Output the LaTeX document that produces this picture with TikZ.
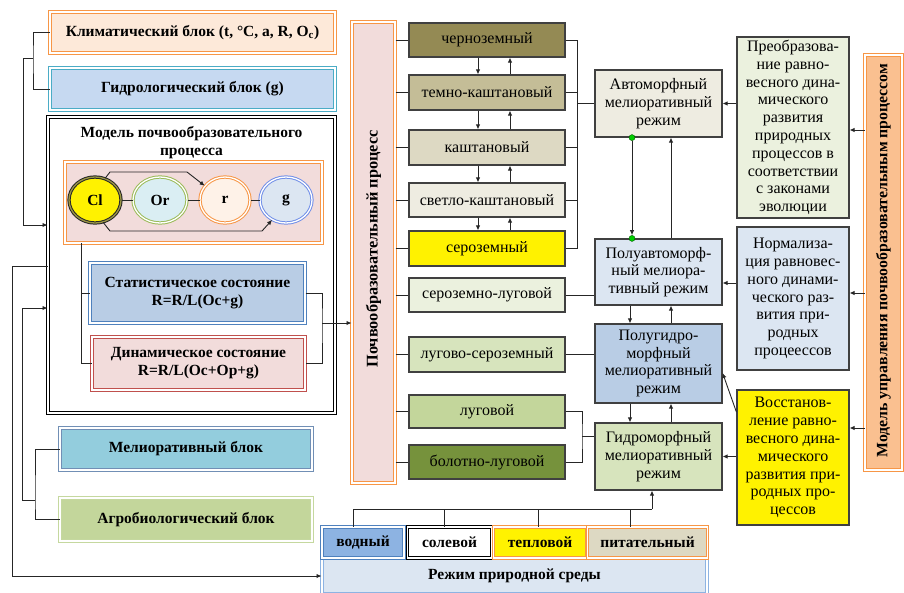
\documentclass[tikz,border=0pt]{standalone}
\usepackage{fontspec}
\setmainfont{Liberation Serif}
\usetikzlibrary{arrows.meta,shapes.geometric}

\definecolor{cOrange}{HTML}{F79646}
\definecolor{cPeach}{HTML}{FDE9D9}
\definecolor{cPink}{HTML}{F2DCDB}
\definecolor{cSky}{HTML}{C6D9F1}
\definecolor{cCyanLine}{HTML}{4BACC6}
\definecolor{cBlueLine}{HTML}{4F81BD}
\definecolor{cRedLine}{HTML}{C0504D}
\definecolor{cGreenLine}{HTML}{9BBB59}
\definecolor{cBlueMid}{HTML}{B9CDE5}
\definecolor{cBlueLight}{HTML}{DCE6F2}
\definecolor{cAqua}{HTML}{93CDDD}
\definecolor{cOlive}{HTML}{C3D69B}
\definecolor{cOliveL}{HTML}{D7E4BD}
\definecolor{cOliveXL}{HTML}{EBF1DE}
\definecolor{cOliveD}{HTML}{76923C}
\definecolor{cTanD}{HTML}{948A54}
\definecolor{cTanM}{HTML}{C4BD97}
\definecolor{cTanL}{HTML}{DDD9C3}
\definecolor{cTanXL}{HTML}{EEECE1}
\definecolor{cWater}{HTML}{8DB3E2}
\definecolor{cCyanL}{HTML}{DAEEF3}
\definecolor{cApricot}{HTML}{FAC090}

\begin{document}
\begin{tikzpicture}[x=1pt,y=-1pt,
  txt/.style={font=\fontsize{16}{17.8}\selectfont},
  btxt/.style={font=\fontsize{15.5}{17.8}\selectfont\bfseries},
  plain/.style={draw=black!75, line width=1.2pt, inner sep=0pt, align=center, txt},
  dbl/.style={draw=#1, double=white, double distance=1.5pt, line width=1pt,
              inner sep=0pt, align=center, btxt},
  oval/.style={ellipse, inner sep=0pt, minimum width=52, minimum height=46,
               line width=1pt, double=white, double distance=1.3pt, btxt},
  wire/.style={draw=black!85, line width=0.9pt},
  arr/.style={wire, -{Latex[length=5pt,width=4.5pt]}},
  gdot/.style={circle, fill=green!80!black, draw=green!35!black, line width=0.4pt,
               inner sep=0pt, minimum size=6pt},
]
\useasboundingbox (0,0) rectangle (904,592);

% ---------- left column: blocks and soil formation model ----------
\node[dbl=cOrange, fill=cPeach, minimum width=285, minimum height=41]
  (clim) at (192.5,32.5) {Климатический блок (t, °C, a, R, O\textsubscript{c})};
\node[dbl=cCyanLine, fill=cSky, minimum width=285, minimum height=42]
  (hydro) at (192.5,89) {Гидрологический блок (g)};

\node[dbl=black, fill=white, minimum width=287, minimum height=296]
  (model) at (191.5,265) {};
\node[btxt, align=center] (mtitle) at (191.5,142.5) {Модель почвообразовательного\\процесса};

\node[dbl=cOrange, fill=cPink, minimum width=257, minimum height=81]
  (group) at (193.5,202.5) {};
\node[oval, draw=black!85, double=yellow!55!black, fill=yellow] (Cl) at (95,200) {Cl};
\node[oval, draw=cGreenLine, fill=cCyanL, minimum width=54] (Or) at (160,200) {Or};
\node[oval, draw=cOrange, fill=cPeach!60, minimum width=50] (r) at (225,200) {r};
\node[oval, draw=cWater!80!blue, fill=cBlueLight] (g) at (286,200) {g};
\draw[wire] (Cl) -- (Or);
\draw[wire] (Or) -- (r);
\draw[wire] (r) -- (g);
\coordinate (ct1) at (110,172);
\coordinate (ct2) at (187,172);
\coordinate (cb1) at (110,231);
\coordinate (cb2) at (262,231);
\draw[arr] (Cl.65) -- (ct1) -- (ct2) -- (r.145);
\draw[arr] (Cl.-70) -- (cb1) -- (cb2) -- (g.-125);

\node[dbl=cBlueLine, fill=cBlueMid, minimum width=215, minimum height=60]
  (stat) at (197.5,293) {Статистическое состояние\\R=R/L(Oc+g)};
\node[dbl=cRedLine, fill=cPink, minimum width=213, minimum height=53]
  (dyn) at (198.5,363.5) {Динамическое состояние\\R=R/L(Oc+Op+g)};

\node[dbl=cWater!80!black, fill=cAqua, minimum width=252, minimum height=42]
  (melior) at (186,449) {Мелиоративный блок};
\node[dbl=cOliveL!70!cGreenLine, fill=cOlive, minimum width=252, minimum height=43]
  (agro) at (186,519.5) {Агробиологический блок};

% states of the model feed the soil formation process
\coordinate (gB) at (81,243);
\draw[wire] (gB) |- (dyn.west);
\draw[wire] (stat.west) -- (stat.west -| gB);
\coordinate (jS) at (322,323);
\draw[wire] (stat.east) -| (jS) |- (dyn.east);

% ---------- soil formation process and soil types ----------
\node[dbl=cOrange, fill=cPink, minimum width=43, minimum height=461]
  (proc) at (373.5,252.5) {};
\node[btxt, font=\fontsize{16.3}{18}\selectfont\bfseries, rotate=90]
  at (373.5,249) {Почвообразовательный процесс};
\draw[arr] (jS) -- (jS -| proc.west);

\node[plain, fill=cTanD,   minimum width=156, minimum height=34] (s1) at (487,40)    {черноземный};
\node[plain, fill=cTanM,   minimum width=156, minimum height=35] (s2) at (487,92.5)  {темно-каштановый};
\node[plain, fill=cTanL,   minimum width=156, minimum height=35] (s3) at (487,147.5) {каштановый};
\node[plain, fill=cTanXL,  minimum width=156, minimum height=34] (s4) at (487,200)   {светло-каштановый};
\node[plain, fill=yellow,  minimum width=156, minimum height=35] (s5) at (487,248.5) {сероземный};
\node[plain, fill=cOliveXL,minimum width=156, minimum height=34] (s6) at (487,295)   {сероземно-луговой};
\node[plain, fill=cOliveL, minimum width=156, minimum height=35] (s7) at (487,354.5) {лугово-сероземный};
\node[plain, fill=cOlive,  minimum width=156, minimum height=33] (s8) at (487,411.5) {луговой};
\node[plain, fill=cOliveD, minimum width=156, minimum height=34] (s9) at (487,462)   {болотно-луговой};

\foreach \s in {s1,s2,s3,s4,s5,s6,s7,s8,s9}
  \draw[wire] (proc.east |- \s.west) -- (\s.west);

\coordinate (xd) at (478,0);
\coordinate (xu) at (510,0);
\foreach \a/\b in {s1/s2,s2/s3,s3/s4,s4/s5}{
  \draw[arr] (\a.south -| xd) -- (\b.north -| xd);
  \draw[arr] (\b.north -| xu) -- (\a.south -| xu);
}

% ---------- reclamation regimes ----------
\node[plain, fill=cTanXL, minimum width=127, minimum height=67]
  (auto) at (658.5,103.5) {Автоморфный\\мелиоративный\\режим};
\node[plain, fill=cBlueLight, minimum width=127, minimum height=66]
  (semiauto) at (658.5,272) {Полуавтоморф-\\ный мелиора-\\тивный режим};
\node[plain, fill=cBlueMid, minimum width=127, minimum height=79]
  (semihydro) at (658.5,363.5) {Полугидро-\\морфный\\мелиоративный\\режим};
\node[plain, fill=cOliveL, minimum width=127, minimum height=67]
  (hydroR) at (658.5,456.5) {Гидроморфный\\мелиоративный\\режим};

\coordinate (bx) at (577,0);
\draw[wire] (s1.east) -| (bx |- s5.east) -- (s5.east);
\foreach \s in {s2,s3,s4}
  \draw[wire] (\s.east) -- (bx |- \s.east);
\draw[wire] (bx |- auto.west) -- (auto.west);
\draw[wire] (s6.east) -- (s6.east -| semiauto.west);
\draw[wire] (s7.east) -- (s7.east -| semihydro.west);
\coordinate (jC) at (582,436);
\draw[wire] (s8.east) -| (jC) |- (s9.east);
\draw[wire] (jC) -- (jC -| hydroR.west);

\coordinate (rd) at (632,0);
\coordinate (rd2) at (630,0);
\coordinate (ru) at (671,0);
\node[gdot] (d1) at (auto.south -| rd) {};
\node[gdot] (d2) at (semiauto.north -| rd) {};
\draw[arr] (d1) -- (d2.north);
\draw[arr] (semiauto.north -| ru) -- (auto.south -| ru);
\draw[arr] (semiauto.south -| rd2) -- (semihydro.north -| rd2);
\draw[arr] (semihydro.north -| ru) -- (semiauto.south -| ru);
\draw[arr] (semihydro.south -| rd2) -- (hydroR.north -| rd2);
\draw[arr] (hydroR.north -| ru) -- (semihydro.south -| ru);

% ---------- management actions ----------
\node[plain, fill=cOliveXL, minimum width=112, minimum height=181]
  (transform) at (793,127.5)
  {Преобразова-\\ние равно-\\весного дина-\\мического\\развития\\природных\\процессов в\\соответствии\\с законами\\эволюции};
\node[plain, fill=cBlueLight, minimum width=112, minimum height=143]
  (normal) at (793,298.5)
  {Нормализа-\\ция равновес-\\ного динами-\\ческого раз-\\вития при-\\родных\\процеессов};
\node[plain, fill=yellow, minimum width=112, minimum height=135]
  (restore) at (793,457.5)
  {Восстанов-\\ление равно-\\весного дина-\\мического\\развития при-\\родных про-\\цессов};

\node[dbl=cOrange, fill=cApricot, minimum width=37, minimum height=415]
  (ctrl) at (883.5,262.5) {};
\node[btxt, font=\fontsize{15.8}{18}\selectfont\bfseries, rotate=90]
  at (883.5,260.5) {Модель управления почвообразовательным процессом};

\draw[arr] (auto.east -| transform.west) -- (auto.east);
\coordinate (yN) at (0,283);
\draw[arr] (normal.west |- yN) -- (semiauto.east |- yN);
\draw[arr] (hydroR.east -| restore.west) -- (hydroR.east);
\coordinate (yD) at (0,412);
\coordinate (yE) at (0,373);
\draw[arr] (restore.west |- yD) -- (semihydro.east |- yE);

\coordinate (yc1) at (0,130);
\coordinate (yc2) at (0,293);
\coordinate (yc3) at (0,428);
\draw[arr] (ctrl.west |- yc1) -- (transform.east |- yc1);
\draw[arr] (ctrl.west |- yc2) -- (normal.east |- yc2);
\draw[arr] (ctrl.west |- yc3) -- (restore.east |- yc3);

% ---------- natural environment regime ----------
\node[dbl=cWater, fill=cBlueLight, minimum width=385, minimum height=36]
  (env) at (514.5,576) {Режим природной среды};
\node[dbl=cBlueLine, fill=cWater, minimum width=82, minimum height=31]
  (water) at (363,542.5) {водный};
\node[dbl=black, fill=white, minimum width=84, minimum height=31]
  (salt) at (449.5,542.5) {солевой};
\node[dbl=cOrange, fill=yellow, minimum width=93, minimum height=31]
  (heat) at (540,542.5) {тепловой};
\node[dbl=cOrange, fill=cTanL, minimum width=120, minimum height=31]
  (nutr) at (647.5,542.5) {питательный};

\coordinate (t1) at (353,509);
\coordinate (t2) at (444,509);
\coordinate (t3) at (538,509);
\coordinate (t4) at (630,509);
\coordinate (t5) at (652,509);
\draw[wire] (t1) -- (t5);
\draw[wire] (t1) -- (t1 |- water.north);
\draw[wire] (t2) -- (t2 |- salt.north);
\draw[wire] (t3) -- (t3 |- heat.north);
\draw[wire] (t4) -- (t4 |- nutr.north);
\draw[arr] (t5) -- (t5 |- hydroR.south);

% ---------- links of the outer blocks ----------
\coordinate (jA) at (33,58);
\coordinate (kA) at (23,58);
\coordinate (yA) at (0,225);
\draw[wire] (clim.west) -| (jA) |- (hydro.west);
\draw[arr] (jA) -- (kA) |- (model.west |- yA);

\coordinate (jB) at (35,500);
\coordinate (kB) at (22,500);
\coordinate (yB) at (0,308);
\draw[wire] (melior.west) -| (jB) |- (agro.west);
\draw[arr] (jB) -- (kB) |- (model.west |- yB);

\coordinate (yO) at (0,266);
\coordinate (kO) at (12,266);
\draw[arr] (model.west |- yO) -- (kO) |- (env.west);
\end{tikzpicture}
\end{document}
